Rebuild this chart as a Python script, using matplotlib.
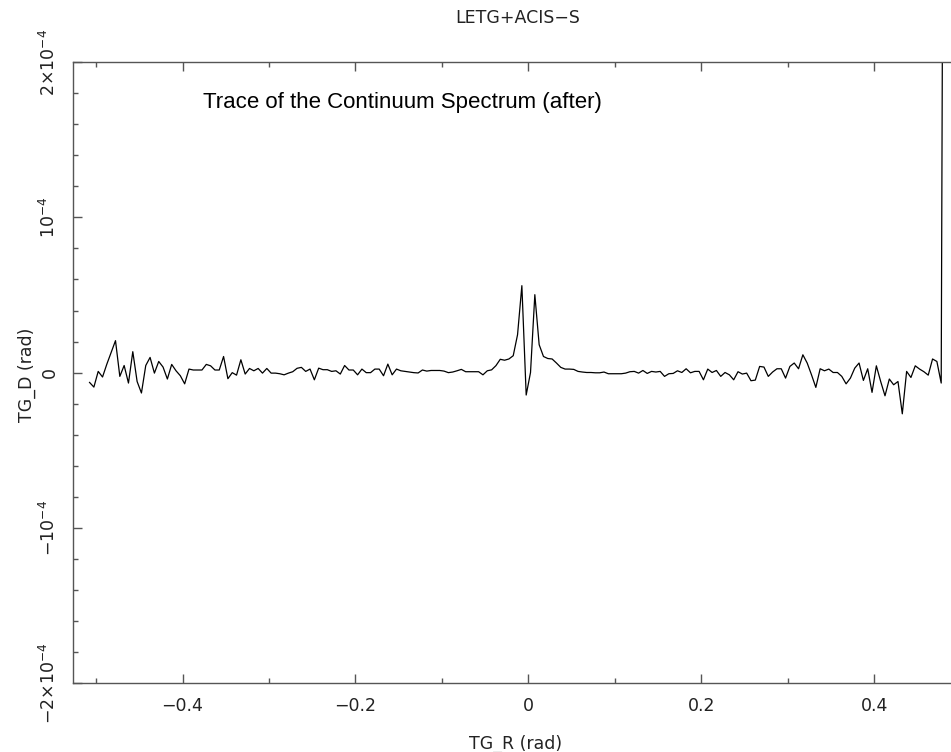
import numpy as np
import matplotlib
matplotlib.use('Agg')
import matplotlib.pyplot as plt
from matplotlib.ticker import MultipleLocator

# Trace values (TG_D, units of 1e-5 rad) on a regular TG_R grid
tg_r_start = -0.5075
tg_r_step = 0.005
tg_d_1e5 = [
    -0.63, -0.93, 0.08, -0.28, 0.55, 1.30, 2.06, -0.24, 0.46, -0.67,
    1.35, -0.57, -1.31, 0.46, 0.98, -0.03, 0.72, 0.36, -0.41, 0.53,
    0.12, -0.20, -0.72, 0.23, 0.17, 0.17, 0.17, 0.53, 0.44, 0.17,
    0.17, 1.04, -0.39, 0.00, -0.16, 0.83, -0.09, 0.27, 0.12, 0.27,
    -0.03, 0.27, -0.03, -0.03, -0.07, -0.14, -0.03, 0.06, 0.28, 0.34,
    0.08, 0.23, -0.46, 0.29, 0.19, 0.19, 0.08, 0.12, -0.09, 0.46,
    0.17, 0.17, -0.14, 0.23, 0.00, 0.00, 0.23, 0.23, -0.20, 0.55,
    -0.14, 0.23, 0.12, 0.08, 0.04, 0.00, -0.02, 0.17, 0.10, 0.14,
    0.14, 0.14, 0.10, 0.00, 0.04, 0.12, 0.21, 0.06, 0.06, 0.06,
    0.06, -0.14, 0.12, 0.18, 0.45, 0.86, 0.80, 0.88, 1.09, 2.44,
    5.60, -1.44, 0.01, 5.02, 1.80, 1.04, 0.91, 0.88, 0.62, 0.34,
    0.23, 0.23, 0.21, 0.08, 0.04, 0.01, 0.01, -0.01, -0.01, 0.04,
    -0.07, -0.07, -0.07, -0.07, -0.03, 0.06, 0.08, -0.03, 0.14, -0.05,
    0.08, 0.04, 0.08, -0.24, -0.07, -0.05, 0.12, 0.01, 0.25, -0.01,
    0.08, 0.08, -0.46, 0.23, 0.01, 0.14, -0.24, 0.01, -0.14, -0.46,
    0.06, -0.09, -0.03, -0.52, -0.48, 0.40, 0.36, -0.24, 0.04, 0.25,
    0.25, -0.35, 0.40, 0.62, 0.25, 1.15, 0.62, -0.14, -0.95, 0.25,
    0.12, 0.23, 0.01, 0.01, -0.24, -0.72, -0.35, 0.29, 0.62, -0.50,
    0.25, -1.27, 0.44, -0.57, -1.49, -0.41, -0.78, -0.57, -2.65, 0.08,
    -0.31, 0.44, 0.23, 0.06, -0.16, 0.88, 0.72, -0.67, 80.0,
]

x_ticks = [-0.4, -0.2, 0.0, 0.2, 0.4]
x_ticklabels = ['\u22120.4', '\u22120.2', '0', '0.2', '0.4']
y_ticks = [-2e-4, -1e-4, 0.0, 1e-4, 2e-4]
y_ticklabels = [r'$\mathregular{-2{\times}10^{-4}}$', r'$\mathregular{-10^{-4}}$', '0',
                r'$\mathregular{10^{-4}}$', r'$\mathregular{2{\times}10^{-4}}$']

tg_r = np.round(tg_r_start + tg_r_step * np.arange(len(tg_d_1e5)), 4)
tg_d = np.array(tg_d_1e5) * 1e-5

W, H = 951, 752
fig = plt.figure(figsize=(W / 100, H / 100), dpi=100)
ax = fig.add_axes([72.7 / W, 68.7 / H, (984 - 72.7) / W, (683.3 - 62) / H])

ax.plot(tg_r, tg_d, color='black', lw=0.9)
ax.set_xlim(-0.527, 0.527)
ax.set_ylim(-2e-4, 2e-4)

txt_color = '#222222'
ax.set_xticks(x_ticks)
ax.set_xticklabels(x_ticklabels, fontsize=12.5, color=txt_color)
ax.set_yticks(y_ticks)
ax.set_yticklabels(y_ticklabels, fontsize=12.5, color=txt_color, rotation=90, va='center')
ax.xaxis.set_minor_locator(MultipleLocator(0.1))
ax.yaxis.set_minor_locator(MultipleLocator(0.2e-4))
ax.tick_params(which='both', direction='in', top=True, right=True, color='#555555', width=1.0)
ax.tick_params(which='major', length=6.5)
ax.tick_params(which='minor', length=3.6)
ax.tick_params(axis='x', pad=10)
ax.tick_params(axis='y', pad=10)
for s in ax.spines.values():
    s.set_color('#555555')
    s.set_linewidth(1.0)

fig.text(518 / W, 1 - 18 / H, 'LETG+ACIS\u2212S', ha='center', va='center', fontsize=12.5, color=txt_color)
fig.text(516 / W, 1 - 744 / H, 'TG_R (rad)', ha='center', va='center', fontsize=12.5, color=txt_color)
fig.text(27 / W, 1 - 375 / H, 'TG_D (rad)', ha='center', va='center', rotation=90, fontsize=12.5, color=txt_color)
fig.text(203 / W, 1 - 108 / H, 'Trace of the Continuum Spectrum (after)', ha='left', va='baseline',
         fontsize=16, family='Liberation Sans', color='black')

fig.savefig('out.png', dpi=100)
